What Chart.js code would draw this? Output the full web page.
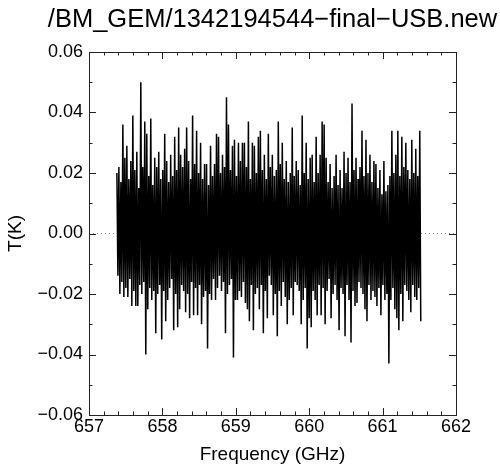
<!DOCTYPE html>
<html>
<head>
<meta charset="utf-8">
<script src="https://cdn.jsdelivr.net/npm/chart.js@4.4.1/dist/chart.umd.min.js"></script>
<style>
  html, body { margin: 0; padding: 0; background: #fff; }
  #c { display: block; }
</style>
</head>
<body>
<canvas id="c" width="500" height="469"></canvas>
<script>
const titleText = "/BM_GEM/1342194544\u2212final\u2212USB.new";

// channel grid of the spectrum (GHz)
const freqStart = 657.38;
const freqEnd = 661.52;

// antenna temperature per channel, in mK
const tempMilliK = [
  20,-14,22,-20,17,-16,36,-21,25,-18,
  29,-21,18,-15,24,-24,39,-19,21,-24,
  27,-24,15,-17,50,-20,22,-16,37,-40,
  33,-25,19,-18,38,-22,16,-19,25,-33,
  22,-20,27,-17,18,-35,21,-19,33,-29,
  24,-22,17,-18,26,-15,19,-32,32,-20,
  21,-31,35,-25,26,-17,22,-19,28,-26,
  35,-20,24,-28,18,-16,39,-27,23,-18,
  34,-27,20,-17,30,-30,18,-21,23,-19,
  23,-38,16,-20,29,-22,19,-15,23,-22,
  33,-18,32,-14,20,-19,26,-16,22,-33,
  45,-20,36,-17,21,-15,29,-41,31,-22,
  19,-22,30,-19,24,-21,30,-16,30,-23,
  22,-25,37,-29,18,-17,30,-32,29,-20,
  20,-18,32,-25,34,-17,21,-33,26,-19,
  18,-28,33,-14,22,-17,26,-27,19,-20,
  21,-34,37,-19,23,-24,30,-16,18,-21,
  24,-30,17,-22,20,-18,35,-27,19,-16,
  24,-17,21,-19,16,-30,39,-22,20,-18,
  30,-38,18,-28,25,-31,26,-19,17,-22,
  32,-27,20,-17,26,-27,37,-18,36,-30,
  25,-19,17,-15,23,-28,15,-20,19,-17,
  26,-22,16,-32,21,-18,15,-20,27,-34,
  20,-17,25,-22,17,-36,43,-19,21,-24,
  25,-23,18,-16,22,-18,34,-20,19,-25,
  31,-29,20,-17,26,-22,17,-19,24,-21,
  23,-24,15,-18,21,-27,13,-17,24,-22,
  14,-20,16,-43,19,-22,34,-18,20,-25,
  26,-28,34,-32,19,-20,32,-29,22,-17,
  30,-19,21,-22,18,-26,31,-17,20,-21,
  28,-22,19,-18,34,-29
];

const xTickLabels = [657, 658, 659, 660, 661, 662];
const yTickLabels = [-0.06, -0.04, -0.02, 0.00, 0.02, 0.04, 0.06];

const FONT = "'Liberation Sans', Arial, Helvetica, sans-serif";

const step = (freqEnd - freqStart) / (tempMilliK.length - 1);
const spectrum = tempMilliK.map((t, i) => ({ x: freqStart + i * step, y: t / 1000 }));
const zeroLine = [{ x: xTickLabels[0], y: 0 }, { x: xTickLabels[xTickLabels.length - 1], y: 0 }];

// frame, inward ticks on all four sides, and the title
const framePlugin = {
  id: "frame",
  afterDatasetsDraw(chart) {
    const { ctx, chartArea: a, scales } = chart;
    const xs = scales.x, ys = scales.y;
    ctx.save();
    ctx.strokeStyle = "#222";
    ctx.lineWidth = 1;
    ctx.strokeRect(Math.round(a.left) + 0.5, Math.round(a.top) + 0.5,
      Math.round(a.right - a.left), Math.round(a.bottom - a.top));
    ctx.beginPath();
    // x ticks: major every 1 GHz, minor every 0.2
    for (let v = xTickLabels[0]; v <= xTickLabels[xTickLabels.length - 1] + 1e-9; v += 0.2) {
      const px = Math.round(xs.getPixelForValue(v)) + 0.5;
      const major = Math.abs(v - Math.round(v)) < 1e-6;
      const len = major ? 7 : 3.5;
      ctx.moveTo(px, a.bottom); ctx.lineTo(px, a.bottom - len);
      ctx.moveTo(px, a.top); ctx.lineTo(px, a.top + len);
    }
    // y ticks: major every 0.02, minor every 0.01
    for (let k = -6; k <= 6; k++) {
      const v = k / 100;
      const py = Math.round(ys.getPixelForValue(v)) + 0.5;
      const len = (k % 2 === 0) ? 7 : 3.5;
      ctx.moveTo(a.left, py); ctx.lineTo(a.left + len, py);
      ctx.moveTo(a.right, py); ctx.lineTo(a.right - len, py);
    }
    ctx.stroke();

    ctx.fillStyle = "#000";
    ctx.font = "25.5px " + FONT;
    ctx.textAlign = "center";
    ctx.textBaseline = "alphabetic";
    ctx.fillText(titleText, (a.left + a.right) / 2, 27);
    ctx.restore();
  }
};

new Chart(document.getElementById("c"), {
  type: "line",
  data: {
    datasets: [
      {
        label: "spectrum",
        data: spectrum,
        borderColor: "#000",
        borderWidth: 1.5,
        pointRadius: 0,
        tension: 0,
        order: 0
      },
      {
        label: "zero",
        data: zeroLine,
        borderColor: "#888",
        borderWidth: 1,
        borderDash: [1, 3],
        pointRadius: 0,
        order: 1
      }
    ]
  },
  options: {
    responsive: false,
    animation: false,
    devicePixelRatio: 1,
    layout: { padding: { left: 0, right: 44, top: 52, bottom: 0 } },
    plugins: { legend: { display: false }, tooltip: { enabled: false }, title: { display: false } },
    scales: {
      x: {
        type: "linear",
        min: xTickLabels[0],
        max: xTickLabels[xTickLabels.length - 1],
        grid: { display: false, drawTicks: false },
        border: { display: false },
        afterFit(s) { s.height = 54; },
        afterBuildTicks(s) { s.ticks = xTickLabels.map(v => ({ value: v })); },
        ticks: {
          autoSkip: false,
          maxRotation: 0,
          padding: 1,
          color: "#000",
          font: { family: FONT, size: 18 },
          callback: v => String(v)
        },
        title: {
          display: true,
          text: "Frequency (GHz)",
          color: "#000",
          font: { family: FONT, size: 19 },
          padding: { top: 0, bottom: 3 }
        }
      },
      y: {
        min: yTickLabels[0],
        max: yTickLabels[yTickLabels.length - 1],
        grid: { display: false, drawTicks: false },
        border: { display: false },
        afterFit(s) { s.width = 89; },
        afterBuildTicks(s) { s.ticks = yTickLabels.map(v => ({ value: v })); },
        ticks: {
          padding: 6,
          color: "#000",
          font: { family: FONT, size: 18 },
          callback: v => Math.abs(v) < 1e-9 ? "0.00" : v.toFixed(2).replace("-", "\u2212")
        },
        title: {
          display: true,
          text: "T(K)",
          color: "#000",
          font: { family: FONT, size: 19 },
          padding: { top: 4, bottom: 0 }
        }
      }
    }
  },
  plugins: [framePlugin]
});
</script>
</body>
</html>
